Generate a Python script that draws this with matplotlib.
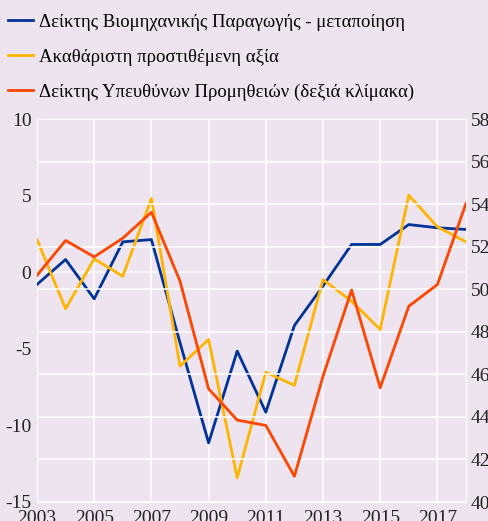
import matplotlib.pyplot as plt

plt.rcParams['font.family'] = ['Liberation Serif', 'DejaVu Serif']

# Ετήσια στοιχεία 2003-2018
years = list(range(2003, 2019))

bip = [-0.8, 0.83, -1.74, 1.98, 2.13, -4.6, -11.14, -5.15, -9.14, -3.48,
       -0.9, 1.81, 1.81, 3.11, 2.9, 2.79]
gva = [2.13, -2.39, 0.87, -0.26, 4.81, -6.13, -4.39, -13.42, -6.53, -7.39,
       -0.48, -1.9, -3.74, 5.03, 2.96, 1.98]
pmi = [50.65, 52.29, 51.52, 52.4, 53.62, 50.38, 45.32, 43.85, 43.6, 41.21,
       45.91, 49.96, 45.37, 49.2, 50.22, 54.03]

labels = [
    "Δείκτης Βιομηχανικής Παραγωγής - μεταποίηση",
    "Ακαθάριστη προστιθέμενη αξία",
    "Δείκτης Υπευθύνων Προμηθειών (δεξιά κλίμακα)",
]
colors = ["#003399", "#FFB400", "#FF4500"]

bg = "#EEE4EF"

fig = plt.figure(figsize=(4.88, 5.21), dpi=100, facecolor=bg)
ax = fig.add_axes([37 / 488, 19 / 521, 429 / 488, 383 / 521])
ax.set_facecolor(bg)
ax2 = ax.twinx()

l1, = ax.plot(years, bip, color=colors[0], lw=2.0, zorder=3)
l2, = ax.plot(years, gva, color=colors[1], lw=2.0, zorder=3)
l3, = ax2.plot(years, pmi, color=colors[2], lw=2.0, zorder=3)

ax.set_xlim(2003, 2018)
ax.set_ylim(-15, 10)
ax.set_yticks([-15, -10, -5, 0, 5, 10])
ax.set_yticklabels(["-15", "-10", "-5", "0", "5", "10"])
ax.set_xticks(range(2003, 2018, 2))
ax2.set_ylim(40, 58)
ax2.set_yticks(range(40, 59, 2))

# λευκό πλέγμα: κάθετες γραμμές ανά διετία, οριζόντιες από τη δεξιά κλίμακα
ax.grid(axis="x", color="white", lw=1.1)
ax2.grid(axis="y", color="white", lw=1.1)
ax.axhline(0, color="white", lw=1.1, zorder=1)
ax.axhline(10, color="white", lw=1.1, zorder=1)

for a in (ax, ax2):
    for s in a.spines.values():
        s.set_visible(False)
    a.tick_params(length=0, labelsize=14, colors="#222222")
ax.spines["left"].set_visible(True)
ax.spines["left"].set_color("white")
ax.spines["bottom"].set_visible(True)
ax.spines["bottom"].set_color("white")
ax2.spines["right"].set_visible(True)
ax2.spines["right"].set_color("white")
ax.tick_params(axis="y", pad=4)
ax.tick_params(axis="x", pad=6, labelsize=14)
ax2.tick_params(axis="y", pad=3.5)

fig.legend([l1, l2, l3], labels, loc="upper left",
           bbox_to_anchor=(0.0, 1 - 5 / 521),
           frameon=False, fontsize=13.5, handlelength=1.3, handletextpad=0.35,
           labelspacing=0.95, borderaxespad=0.05)

fig.savefig("out.png", dpi=100, facecolor=bg)
